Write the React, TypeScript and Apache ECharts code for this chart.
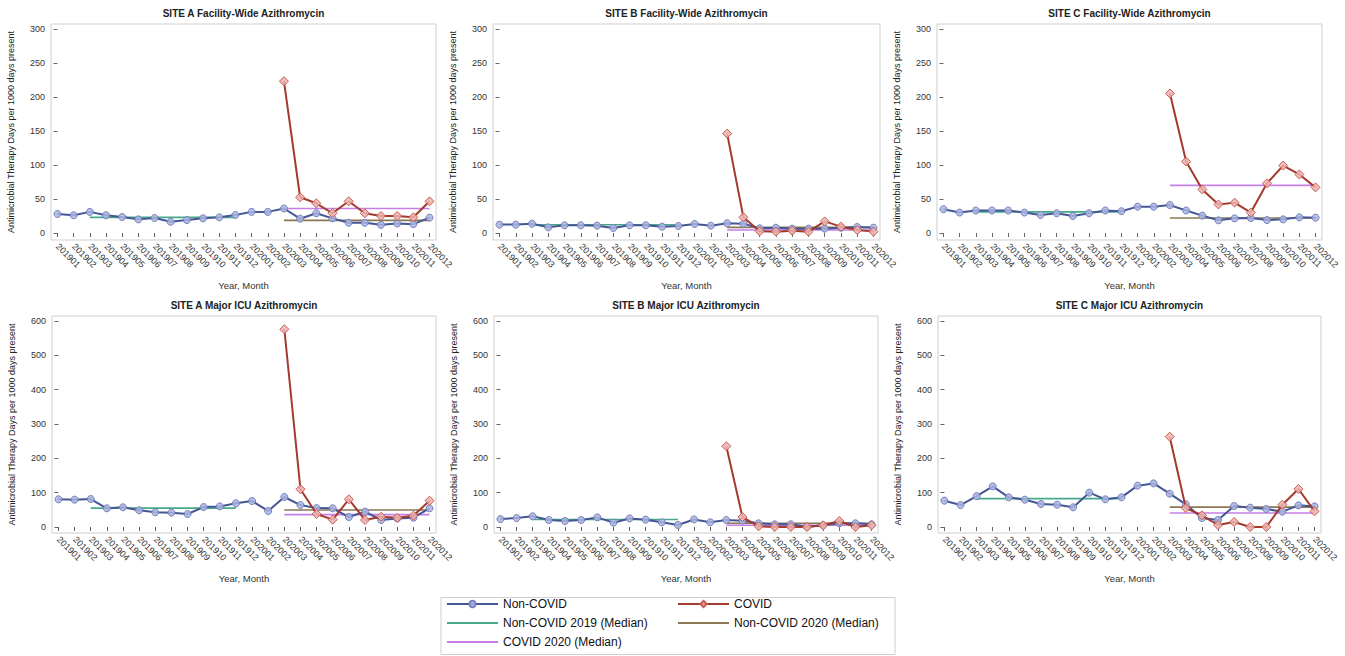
import React, { useEffect, useRef } from 'react';
import * as echarts from 'echarts';

// ---------- DATA ----------
const months = [
  '201901', '201902', '201903', '201904', '201905', '201906', '201907', '201908', '201909', '201910', '201911', '201912',
  '202001', '202002', '202003', '202004', '202005', '202006', '202007', '202008', '202009', '202010', '202011', '202012',
];

const panelTitles = [
  'SITE A Facility-Wide Azithromycin',
  'SITE B Facility-Wide Azithromycin',
  'SITE C Facility-Wide Azithromycin',
  'SITE A Major ICU Azithromycin',
  'SITE B Major ICU Azithromycin',
  'SITE C Major ICU Azithromycin',
];

// Non-COVID monthly values (201901–202012)
const nonCovidSiteAFacility = [28, 26, 31, 26, 23.5, 20, 22, 16.5, 19, 21.5, 23, 26.5, 31, 31, 36, 21, 29, 21.5, 15, 15, 12, 14, 13, 22.5];
const nonCovidSiteBFacility = [12.3, 12.3, 13.7, 8.3, 11.3, 11.3, 10.8, 7.4, 11.3, 11.3, 9.3, 10.3, 13.2, 10.8, 14.2, 13.7, 6.9, 7.8, 6.4, 6.4, 6.4, 7.8, 8.8, 7.8];
const nonCovidSiteCFacility = [35, 30, 33, 33, 33, 30, 26.5, 29, 25, 29, 33, 32, 38.7, 38.7, 41, 33, 25.5, 18.6, 21.5, 22, 19, 20, 23, 22.5];
const nonCovidSiteAIcu = [80.6, 79.6, 81.5, 54.4, 57.3, 48.5, 42.7, 41.7, 37.9, 58, 60, 69, 75.7, 46.6, 87.4, 64, 55, 54.4, 29, 44.7, 20.4, 25, 27, 54.4];
const nonCovidSiteBIcu = [23, 26, 31, 20.4, 17.5, 20.4, 28, 12.6, 25, 21.4, 13.6, 5.8, 22, 13.6, 20.4, 18.4, 10.7, 7.8, 7.8, 1, 4.9, 10.7, 10.7, 7.8];
const nonCovidSiteCIcu = [76.7, 64, 90, 118.4, 86.4, 79.6, 67, 65, 57.3, 100, 80.6, 86.4, 120.4, 127, 97, 66, 26.2, 20.4, 61, 56.3, 52.4, 44.7, 63, 60];

// COVID monthly values (202003–202012)
const covidFirstMonth = '202003';
const covidSiteAFacility = [223, 52.5, 43.6, 29, 46.6, 29, 25, 25, 23, 46.5];
const covidSiteBFacility = [146, 23, 2.5, 2, 3.4, 2, 17, 9.3, 4.4, 2];
const covidSiteCFacility = [205, 105, 64, 42, 44.6, 30, 73, 99, 86, 67];
const covidSiteAIcu = [576, 110, 38, 21.4, 80.6, 20.4, 30, 27, 33, 76.7];
const covidSiteBIcu = [235, 29, 2, 0, 0, 0, 4.9, 17.5, 0, 4.9];
const covidSiteCIcu = [263, 55.3, 34, 5.8, 14.6, 0, 0, 65, 110.7, 45.6];

// Median reference lines (per panel, in panel order) and the months they span
const median2019Span = ['201903', '201912'];
const median2020Span = ['202003', '202012'];
const medianNonCovid2019 = [23, 12, 31, 55, 22, 82.5];
const medianNonCovid2020 = [18.6, 8.3, 22, 49.5, 11, 58];
const medianCovid2020 = [36, 4.4, 70, 36, 5, 40.8];

const facilityYTicks = [0, 50, 100, 150, 200, 250, 300];
const icuYTicks = [0, 100, 200, 300, 400, 500, 600];

const nonCovidSeriesData = [nonCovidSiteAFacility, nonCovidSiteBFacility, nonCovidSiteCFacility, nonCovidSiteAIcu, nonCovidSiteBIcu, nonCovidSiteCIcu];
const covidSeriesData = [covidSiteAFacility, covidSiteBFacility, covidSiteCFacility, covidSiteAIcu, covidSiteBIcu, covidSiteCIcu];

// ---------- LAYOUT / STYLE ----------
const frames = [
  { left: 51, top: 24, width: 385, height: 216 },
  { left: 493, top: 24, width: 387, height: 216 },
  { left: 937, top: 24, width: 385, height: 216 },
  { left: 52, top: 316, width: 384, height: 217 },
  { left: 494, top: 316, width: 384, height: 217 },
  { left: 938, top: 316, width: 383, height: 217 },
];
const yRanges = [
  { min: -10.3, max: 307, ticks: facilityYTicks },
  { min: -10.3, max: 307, ticks: facilityYTicks },
  { min: -10.3, max: 307, ticks: facilityYTicks },
  { min: -17.5, max: 614.6, ticks: icuYTicks },
  { min: -17.5, max: 614.6, ticks: icuYTicks },
  { min: -17.5, max: 614.6, ticks: icuYTicks },
];

const FONT = "'Liberation Sans', Arial, sans-serif";
const C_NONCOVID = '#445694';
const C_COVID = '#A23A2E';
const C_GREEN = '#45a98a';
const C_BROWN = '#8c7654';
const C_PURPLE = '#c57fe6';

function buildOption() {
  const idx = (m: string) => months.indexOf(m);
  const tickIdx = months.map((_, j) => j);
  const grid: any[] = [];
  const xAxis: any[] = [];
  const yAxis: any[] = [];
  const title: any[] = [];
  const series: any[] = [];

  frames.forEach((f, i) => {
    grid.push({ ...f, show: true, borderColor: '#cfcfcf', borderWidth: 1, containLabel: false });
    title.push({
      text: panelTitles[i],
      left: f.left + f.width / 2,
      top: f.top - 16,
      padding: 0,
      textAlign: 'center',
      textStyle: { fontFamily: FONT, fontSize: 10, fontWeight: 'bold', color: '#222' },
    });
    xAxis.push({
      type: 'value',
      gridIndex: i,
      min: -0.4,
      max: 23.4,
      axisLine: { show: false },
      splitLine: { show: false },
      axisTick: { show: true, length: 4, customValues: tickIdx, lineStyle: { color: '#666' } },
      axisLabel: {
        customValues: tickIdx,
        formatter: (v: number) => months[Math.round(v)] ?? '',
        rotate: -45,
        fontSize: 9,
        margin: 5,
        color: '#333',
        fontFamily: FONT,
      },
      name: 'Year, Month',
      nameLocation: 'middle',
      nameGap: 40,
      nameTextStyle: { fontSize: 9.5, color: '#333', fontFamily: FONT },
    });
    const yr = yRanges[i];
    yAxis.push({
      type: 'value',
      gridIndex: i,
      min: yr.min,
      max: yr.max,
      axisLine: { show: false },
      splitLine: { show: false },
      axisTick: { show: true, length: 4, customValues: yr.ticks, lineStyle: { color: '#666' } },
      axisLabel: { customValues: yr.ticks, fontSize: 9, margin: 6, color: '#333', fontFamily: FONT },
      name: 'Antimicrobial Therapy Days per 1000 days present',
      nameLocation: 'middle',
      nameGap: 36,
      nameTextStyle: { fontSize: 9, color: '#222', fontFamily: FONT },
    });

    const medianLine = (name: string, val: number, span: string[], color: string) => ({
      type: 'line',
      name,
      xAxisIndex: i,
      yAxisIndex: i,
      data: [[idx(span[0]), val], [idx(span[1]), val]],
      symbol: 'none',
      lineStyle: { color, width: 1.6 },
      itemStyle: { color },
      silent: true,
      z: 2,
    });
    series.push(medianLine('Non-COVID 2019 (Median)', medianNonCovid2019[i], median2019Span, C_GREEN));
    series.push(medianLine('Non-COVID 2020 (Median)', medianNonCovid2020[i], median2020Span, C_BROWN));
    series.push(medianLine('COVID 2020 (Median)', medianCovid2020[i], median2020Span, C_PURPLE));

    series.push({
      type: 'line',
      name: 'Non-COVID',
      xAxisIndex: i,
      yAxisIndex: i,
      data: nonCovidSeriesData[i].map((v, j) => [j, v]),
      symbol: 'circle',
      symbolSize: 7,
      lineStyle: { color: C_NONCOVID, width: 2 },
      itemStyle: { color: 'rgba(170,180,225,0.85)', borderColor: '#7382bd', borderWidth: 1 },
      z: 3,
    });
    const c0 = idx(covidFirstMonth);
    series.push({
      type: 'line',
      name: 'COVID',
      xAxisIndex: i,
      yAxisIndex: i,
      data: covidSeriesData[i].map((v, j) => [c0 + j, v]),
      symbol: 'diamond',
      symbolSize: 9,
      lineStyle: { color: C_COVID, width: 2 },
      itemStyle: { color: 'rgba(235,180,175,0.85)', borderColor: '#cc5a50', borderWidth: 1 },
      z: 4,
    });
  });

  const legendCommon = {
    orient: 'vertical',
    top: 598,
    padding: 0,
    itemWidth: 51,
    itemHeight: 8,
    itemGap: 7,
    selectedMode: false,
    textStyle: { fontSize: 12, color: '#111', fontFamily: FONT, lineHeight: 12 },
  };
  const hiddenSymbol = { opacity: 0 };

  return {
    animation: false,
    backgroundColor: '#fff',
    textStyle: { fontFamily: FONT },
    title,
    grid,
    xAxis,
    yAxis,
    legend: [
      {
        ...legendCommon,
        left: 446,
        data: [
          'Non-COVID',
          { name: 'Non-COVID 2019 (Median)', itemStyle: hiddenSymbol },
          { name: 'COVID 2020 (Median)', itemStyle: hiddenSymbol },
        ],
      },
      {
        ...legendCommon,
        left: 677,
        data: ['COVID', { name: 'Non-COVID 2020 (Median)', itemStyle: hiddenSymbol }],
      },
    ],
    graphic: [
      {
        type: 'rect',
        shape: { x: 441, y: 597.5, width: 454, height: 57 },
        style: { fill: 'none', stroke: '#cfcfcf', lineWidth: 1 },
        silent: true,
      },
    ],
    series,
  };
}

export default function App() {
  const ref = useRef<HTMLDivElement>(null);
  useEffect(() => {
    if (!ref.current) return;
    const chart = echarts.init(ref.current, undefined, { renderer: 'svg' });
    chart.setOption(buildOption() as any);
    return () => chart.dispose();
  }, []);
  return (
    <div
      ref={ref}
      style={{ position: 'fixed', left: 0, top: 0, width: 1345, height: 656, background: '#fff' }}
    />
  );
}
